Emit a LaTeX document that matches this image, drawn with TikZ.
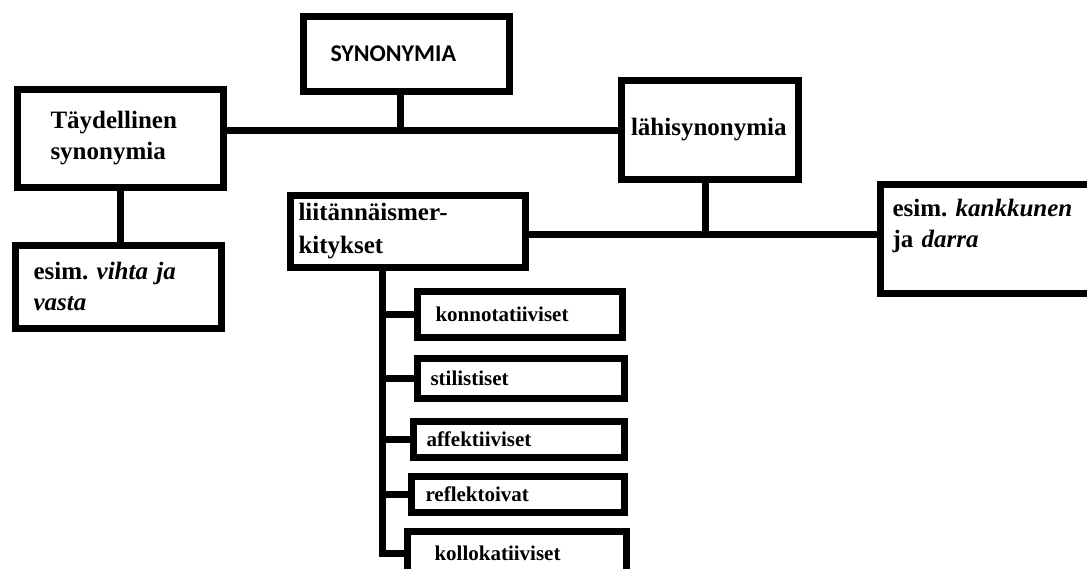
\documentclass[tikz,border=0pt]{standalone}
\usepackage{fontspec}
\setmainfont{Liberation Serif}
\newfontfamily\headfont{Carlito}

\begin{document}
\begin{tikzpicture}[x=1pt,y=-1pt,
  line width=7pt,
  box/.style={draw,rectangle,line width=7pt,anchor=north west,align=left,
    inner ysep=0pt,font=\bfseries\fontsize{25}{31}\selectfont},
  subbox/.style={box,font=\bfseries\fontsize{21}{25}\selectfont}]

\clip (0,0) rectangle (1087,568);

%draw the main boxes
  \node[box,font=\headfont\bfseries\fontsize{24}{28}\selectfont,
    inner xsep=27.5pt,text width=151pt,minimum height=75pt] (syn) at (299.5,12.5) {SYNONYMIA};
  \node[box,inner xsep=33.5pt,text width=139pt,minimum height=98pt] (tay) at (13.5,85.5) {Täydellinen\\synonymia};
  \node[box,inner xsep=18.5pt,text width=169pt,minimum height=83pt] (vih) at (11.5,241.5) {esim.\ \textit{vihta ja}\\\textit{vasta}};
  \node[box,inner xsep=10pt,text width=157pt,minimum height=99pt] (lah) at (617.5,76.5) {lähisynonymia};
  \node[box,font=\bfseries\fontsize{25}{33}\selectfont,
    inner xsep=8.5pt,text width=218pt,minimum height=72pt] (lii) at (286.5,191.5) {liitännäismer-\\kitykset};
  \node[box,inner xsep=12.5pt,text width=189pt,minimum height=109pt] (kan) at (876.5,180.5) {esim.\ \textit{kankkunen}\\ja \textit{darra}\\\mbox{}};

%draw the small boxes
  \node[subbox,inner xsep=18.5pt,text width=168pt,minimum height=46pt] (kon) at (413.5,287.5) {konnotatiiviset};
  \node[subbox,inner xsep=13.5pt,text width=180pt,minimum height=40pt] (sti) at (413.5,354.5) {stilistiset};
  \node[subbox,inner xsep=13.5pt,text width=184pt,minimum height=36pt] (aff) at (409.5,417.5) {affektiiviset};
  \node[subbox,inner xsep=14.5pt,text width=184pt,minimum height=36pt] (ref) at (407.5,472.5) {reflektoivat};
  \node[subbox,inner xsep=27.5pt,text width=164pt,minimum height=45pt] (kol) at (403.5,527.5) {kollokatiiviset};

%joints
  \coordinate (jtop) at (400,130);
  \coordinate (jmid) at (705,234);
  \coordinate (trunk) at (382,300);

%draw connectors
  \draw (syn.south -| jtop) -- (jtop);
  \draw (tay.east |- jtop) -- (lah.west |- jtop);
  \draw (tay.south) -- (vih.north -| tay.south);
  \draw (lah.south -| jmid) -- (jmid);
  \draw (lii.east |- jmid) -- (kan.west |- jmid);
  \draw (lii.south -| trunk) -- (trunk |- kol.west) -- (kol.west);
  \foreach \n in {kon,sti,aff,ref}
    \draw (trunk |- \n.west) -- (\n.west);

\end{tikzpicture}
\end{document}
